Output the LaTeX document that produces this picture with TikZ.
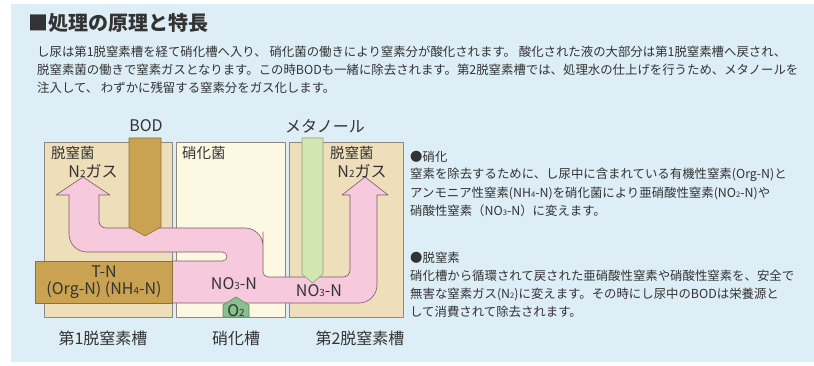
\documentclass[tikz,border=0pt]{standalone}
\usepackage{fontspec}
\setmainfont{Noto Sans CJK JP}
\newcommand\subnum[1]{\scalebox{0.62}{#1}}

\begin{document}
\begin{tikzpicture}
	[x=1pt,y=-1pt,line join=round,
	%Styles
	tank/.style={draw=tankline,line width=0.7pt},
	pipe/.style={draw=#1!70!black,fill=#1,line width=0.6pt},
	flow/.style={fill=flowpink,draw=flowline,line width=0.6pt},
	tag/.style={font=\fontsize{16}{18}\selectfont,text=inkgray,inner sep=0pt},
	small tag/.style={tag,anchor=west,font=\fontsize{14.5}{16}\selectfont},
	body/.style={font=\fontsize{12.4}{14}\selectfont,text=inkgray,anchor=west,inner sep=0pt}
	]
	
	%Colors
	\definecolor{panelblue}{HTML}{DDEEF7}
	\definecolor{tanktan}{HTML}{EEDFBA}
	\definecolor{tankcream}{HTML}{FDF8E2}
	\definecolor{tankline}{HTML}{8C8A80}
	\definecolor{bodtan}{HTML}{C9A352}
	\definecolor{methgreen}{HTML}{D2E6B2}
	\definecolor{flowpink}{HTML}{F6C9DC}
	\definecolor{flowline}{HTML}{7A5A66}
	\definecolor{otwogreen}{HTML}{88C08E}
	\definecolor{inkgray}{HTML}{333333}
	
	\useasboundingbox (0,0) rectangle (814,366);
	\fill[panelblue] (11,4) rectangle (814,362);
	
	%Heading and text
	\node[body,font=\fontsize{20}{22}\selectfont\bfseries] (title) at (28,23) {■処理の原理と特長};
	\node[body] (para1) at (37,52) {し尿は第1脱窒素槽を経て硝化槽へ入り、\ 硝化菌の働きにより窒素分が酸化されます。\ 酸化された液の大部分は第1脱窒素槽へ戻され、};
	\node[body] (para2) at (37,70) {脱窒素菌の働きで窒素ガスとなります。この時BODも一緒に除去されます。第2脱窒素槽では、処理水の仕上げを行うため、メタノールを};
	\node[body] (para3) at (37,88) {注入して、\ わずかに残留する窒素分をガス化します。};
	
	\node[body] (nitrhead) at (410,157) {●硝化};
	\node[body] (nitr1) at (410,175) {窒素を除去するために、し尿中に含まれている有機性窒素(Org-N)と};
	\node[body] (nitr2) at (410,193) {アンモニア性窒素(NH\subnum{4}-N)を硝化菌により亜硝酸性窒素(NO\subnum{2}-N)や};
	\node[body] (nitr3) at (410,211) {硝酸性窒素（NO\subnum{3}-N）に変えます。};
	
	\node[body] (denihead) at (410,258) {●脱窒素};
	\node[body] (deni1) at (410,276) {硝化槽から循環されて戻された亜硝酸性窒素や硝酸性窒素を、安全で};
	\node[body] (deni2) at (410,294) {無害な窒素ガス(N\subnum{2})に変えます。その時にし尿中のBODは栄養源と};
	\node[body] (deni3) at (410,312) {して消費されて除去されます。};
	
	%Tanks
	\draw[tank,fill=tanktan] (44,142) rectangle (172,317);
	\draw[tank,fill=tankcream] (176,142) rectangle (285,317);
	\draw[tank,fill=tanktan] (289,142) rectangle (403,317);
	
	%The flow
	\draw[flow] (83,177) -- (110,195) -- (99,195) -- (99,205)
		[rounded corners=7pt] -- (99,228) -- (180,228)
		[rounded corners=18pt] -- (263,228) -- (263,250)
		[rounded corners=5pt] -- (263,277) -- (300,277)
		[rounded corners=7pt] -- (350,277) -- (350,215)
		[sharp corners] -- (350,195) -- (342,195) -- (365,177) -- (388,195) -- (377,195) -- (377,215)
		[rounded corners=18pt] -- (377,303) -- (300,303)
		[sharp corners] -- (172,303) -- (172,261) -- (218,261)
		[rounded corners=4.5pt] -- (227,261) -- (227,252) -- (200,252)
		[rounded corners=18pt] -- (69,252) -- (69,215)
		[sharp corners] -- (69,195) -- (56,195) -- cycle;
	
	%Pipes and boxes
	\draw[pipe=bodtan] (129,138) -- (161,138) -- (161,227) -- (145,236) -- (129,227) -- cycle;
	\draw[pipe=methgreen] (302,138) -- (323,138) -- (323,274) -- (312.5,283) -- (302,274) -- cycle;
	\draw[pipe=bodtan] (35,261) rectangle (172,303);
	\draw[pipe=otwogreen] (223,305) -- (236,297) -- (249,305) -- (249,317) -- (223,317) -- cycle;
	
	%Labels
	\node[tag] (bod) at (146,126) {BOD};
	\node[tag] (methanol) at (325,126) {メタノール};
	\node[small tag] (bact1) at (51,153) {脱窒菌};
	\node[small tag] (bact2) at (182,153) {硝化菌};
	\node[small tag] (bact3) at (330,153) {脱窒菌};
	\node[tag] (gas1) at (93,171) {N\subnum{2}ガス};
	\node[tag] (gas2) at (362,171) {N\subnum{2}ガス};
	\node[tag] (tn) at (104,272) {T-N};
	\node[tag] (orgn) at (104,290) {(Org-N) (NH\subnum{4}-N)};
	\node[tag] (nitrate1) at (234,284) {NO\subnum{3}-N};
	\node[tag] (nitrate2) at (319,291) {NO\subnum{3}-N};
	\node[tag] (otwo) at (236,311) {O\subnum{2}};
	\node[tag] (tank1) at (103,338) {第1脱窒素槽};
	\node[tag] (tank2) at (236,338) {硝化槽};
	\node[tag] (tank3) at (360,338) {第2脱窒素槽};
\end{tikzpicture}
\end{document}
